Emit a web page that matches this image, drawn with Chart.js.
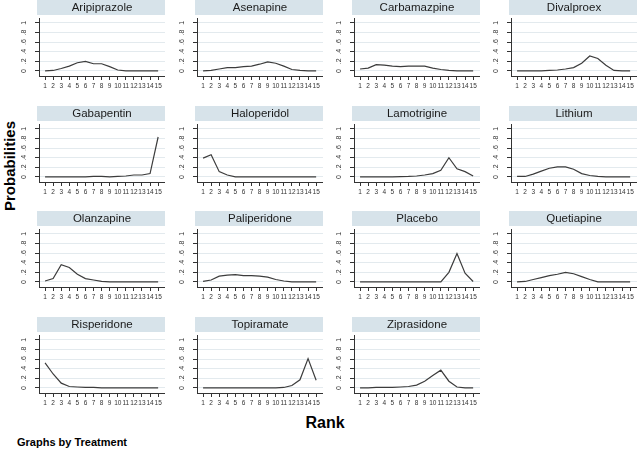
<!DOCTYPE html>
<html>
<head>
<meta charset="utf-8">
<script src="https://cdn.jsdelivr.net/npm/chart.js@4/dist/chart.umd.min.js"></script>
<style>
  html, body { margin: 0; padding: 0; background: #ffffff; }
  #wrap { position: relative; width: 640px; height: 450px; overflow: hidden; font-family: "Liberation Sans", Arial, sans-serif; }
  .panel { position: absolute; }
  .lbl { position: absolute; color: #000; font-weight: bold; white-space: nowrap; }
</style>
</head>
<body>
<div id="wrap">
  <div class="lbl" id="ytitle" style="font-size:15px; left:9px; top:166px; transform: translate(-50%,-50%) rotate(-90deg);">Probabilities</div>
  <div class="lbl" id="xtitle" style="font-size:16px; left:325px; top:423px; transform: translate(-50%,-50%);">Rank</div>
  <div class="lbl" id="note" style="font-size:11px; left:17px; top:436px;">Graphs by Treatment</div>
</div>
<script>
// ---- Data ----
const ranks = [1,2,3,4,5,6,7,8,9,10,11,12,13,14,15];
const yTicks = [0, 0.2, 0.4, 0.6, 0.8, 1];
const yTickLabels = ["0", ".2", ".4", ".6", ".8", "1"];
const treatments = ["Aripiprazole","Asenapine","Carbamazpine","Divalproex","Gabapentin","Haloperidol","Lamotrigine","Lithium","Olanzapine","Paliperidone","Placebo","Quetiapine","Risperidone","Topiramate","Ziprasidone"];

const aripiprazole = [0.00,0.01,0.05,0.10,0.17,0.20,0.15,0.15,0.09,0.02,0.00,0.00,0.00,0.00,0.00];
const asenapine    = [0.00,0.01,0.04,0.07,0.07,0.09,0.10,0.14,0.19,0.16,0.10,0.03,0.01,0.00,0.00];
const carbamazpine = [0.04,0.06,0.13,0.12,0.10,0.09,0.10,0.10,0.10,0.06,0.03,0.01,0.00,0.00,0.00];
const divalproex   = [0.00,0.00,0.00,0.00,0.01,0.02,0.04,0.07,0.16,0.31,0.26,0.12,0.01,0.00,0.00];
const gabapentin   = [0.00,0.00,0.00,0.00,0.00,0.00,0.01,0.01,0.00,0.01,0.02,0.04,0.04,0.07,0.83];
const haloperidol  = [0.39,0.46,0.11,0.04,0.00,0.00,0.00,0.00,0.00,0.00,0.00,0.00,0.00,0.00,0.00];
const lamotrigine  = [0.00,0.00,0.00,0.00,0.00,0.005,0.01,0.02,0.04,0.07,0.14,0.40,0.17,0.11,0.02];
const lithium      = [0.01,0.01,0.06,0.12,0.18,0.21,0.21,0.16,0.07,0.03,0.01,0.00,0.00,0.00,0.00];
const olanzapine   = [0.02,0.07,0.36,0.30,0.16,0.07,0.04,0.01,0.00,0.00,0.00,0.00,0.00,0.00,0.00];
const paliperidone = [0.01,0.04,0.12,0.14,0.15,0.13,0.13,0.12,0.10,0.05,0.02,0.00,0.00,0.00,0.00];
const placebo      = [0.00,0.00,0.00,0.00,0.00,0.00,0.00,0.00,0.00,0.00,0.00,0.20,0.59,0.18,0.01];
const quetiapine   = [0.00,0.01,0.05,0.09,0.13,0.16,0.20,0.17,0.11,0.05,0.00,0.00,0.00,0.00,0.00];
const risperidone  = [0.52,0.29,0.10,0.03,0.02,0.01,0.01,0.00,0.00,0.00,0.00,0.00,0.00,0.00,0.00];
const topiramate   = [0.00,0.00,0.00,0.00,0.00,0.00,0.00,0.00,0.00,0.00,0.01,0.05,0.17,0.61,0.16];
const ziprasidone  = [0.00,0.00,0.01,0.01,0.01,0.02,0.03,0.06,0.14,0.26,0.37,0.14,0.02,0.00,0.00];

const seriesList = [aripiprazole, asenapine, carbamazpine, divalproex, gabapentin, haloperidol, lamotrigine, lithium, olanzapine, paliperidone, placebo, quetiapine, risperidone, topiramate, ziprasidone];

// ---- Layout ----
const colLefts = [15, 173, 330, 487];
const rowTops = [0, 106, 211, 317];
const PANEL_W = 150, PANEL_H = 94;
const FONT = "'Liberation Sans', Arial, sans-serif";
const AXIS_COLOR = '#333333';
const GRID_COLOR = '#e3eaee';
const STRIP_COLOR = '#d7e3ea';

const stripPlugin = {
  id: 'stripFill',
  beforeDraw(chart) {
    const tb = chart.titleBlock;
    if (!tb) return;
    const ctx = chart.ctx;
    ctx.save();
    ctx.fillStyle = STRIP_COLOR;
    const left = chart.chartArea.left - 2;
    ctx.fillRect(left, tb.top, chart.chartArea.right - left, 15);
    ctx.restore();
  }
};

const wrap = document.getElementById('wrap');
treatments.forEach((name, i) => {
  const col = i % 4, row = Math.floor(i / 4);
  const div = document.createElement('div');
  div.className = 'panel';
  div.style.left = colLefts[col] + 'px';
  div.style.top = rowTops[row] + 'px';
  div.style.width = PANEL_W + 'px';
  div.style.height = PANEL_H + 'px';
  const cv = document.createElement('canvas');
  cv.width = PANEL_W; cv.height = PANEL_H;
  div.appendChild(cv);
  wrap.appendChild(div);

  new Chart(cv, {
    type: 'line',
    data: {
      labels: ranks,
      datasets: [{
        label: name,
        data: ranks.map((r, k) => ({ x: r, y: seriesList[i][k] })),
        borderColor: '#3c3c3c',
        borderWidth: 1.2,
        pointRadius: 0,
        tension: 0,
        fill: false
      }]
    },
    options: {
      responsive: false,
      animation: false,
      events: [],
      layout: { padding: 0 },
      plugins: {
        legend: { display: false },
        tooltip: { enabled: false },
        title: {
          display: true,
          text: name,
          fullSize: false,
          color: '#1a1a1a',
          font: { family: FONT, size: 11.5, weight: 'normal', lineHeight: '15px' },
          padding: { top: 0, bottom: 3 }
        }
      },
      scales: {
        x: {
          type: 'linear',
          min: 0.25,
          max: 15.85,
          afterFit(s) { s.height = 18; },
          afterBuildTicks(s) { s.ticks = ranks.map(v => ({ value: v })); },
          grid: { display: true, drawOnChartArea: false, drawTicks: true, tickLength: 4, tickColor: AXIS_COLOR },
          border: { display: true, color: AXIS_COLOR, width: 1 },
          ticks: {
            autoSkip: false, maxRotation: 0, minRotation: 0, padding: 2,
            color: '#333', font: { family: FONT, size: 6.5 },
            callback: v => String(v)
          }
        },
        y: {
          type: 'linear',
          min: -0.105,
          max: 1.1,
          afterFit(s) { s.width = 24; },
          afterBuildTicks(s) { s.ticks = yTicks.map(v => ({ value: v })); },
          grid: { display: true, color: GRID_COLOR, lineWidth: 1, drawTicks: true, tickLength: 4, tickColor: AXIS_COLOR },
          border: { display: true, color: AXIS_COLOR, width: 1 },
          ticks: {
            minRotation: 90, maxRotation: 90, crossAlign: 'center', padding: 8,
            color: '#333', font: { family: FONT, size: 7 },
            callback: (v) => { const k = yTicks.indexOf(v); return k >= 0 ? yTickLabels[k] : ''; }
          }
        }
      }
    },
    plugins: [stripPlugin]
  });
});
</script>
</body>
</html>
